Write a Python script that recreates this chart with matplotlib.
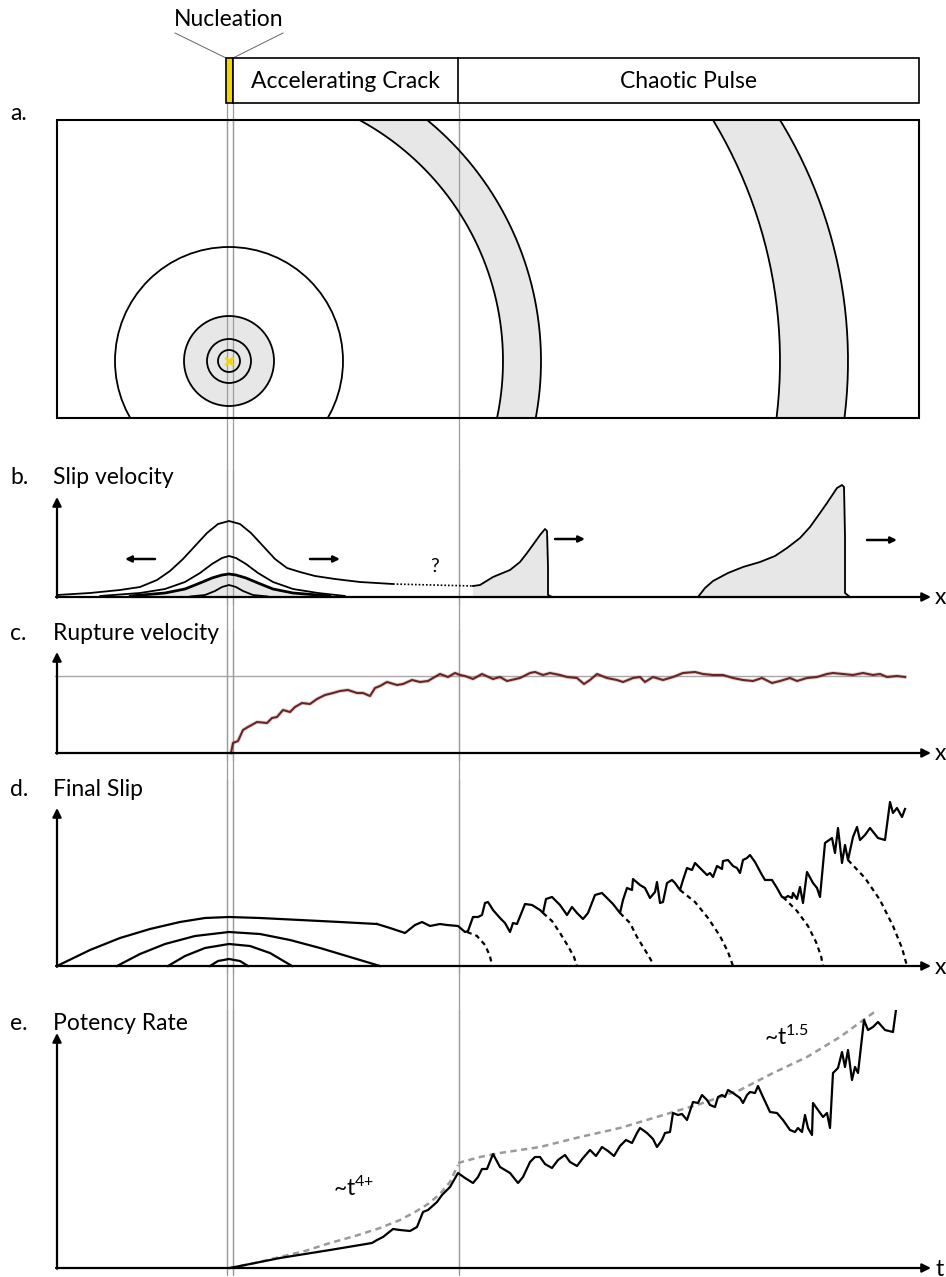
import numpy as np
import matplotlib
matplotlib.use('Agg')
import matplotlib.pyplot as plt
from matplotlib.patches import Circle, Polygon, Rectangle

W, H = 946, 1277

plt.rcParams.update({
    'font.family': ['Lato', 'DejaVu Sans'],
    'font.size': 16.5,
    'mathtext.default': 'regular',
})

INK = 'black'
FILL = '#e7e7e7'
GUIDE = '#9c9c9c'
YELLOW = '#f2d600'
MAROON = '#6a2424'
TREND = '#9a9a9a'
FS = 16.5

# ---- rupture phases along the fault (x in pixels of the fault axis) ----
PHASE_EDGES = [226, 233, 458, 919]
PHASE_NAMES = ['Nucleation', 'Accelerating Crack', 'Chaotic Pulse']
GUIDE_X = [227, 233, 458.5]
HYPO_X = 229

# ---- a. map view: rupture fronts ----
HYPO_Y = 57
RING_RADII = [11, 22, 45]
CRACK_RADIUS = 114
# each pulse band: (outer center x, outer radius, inner center x, inner radius)
PULSE_BANDS = [
    (229, 312, 229, 274),
    (387, 461, 313, 467),
]

# ---- b. slip velocity snapshots ----
b_x1 = [57, 90, 120, 140, 157, 170, 183, 195, 207, 218, 229, 240, 251, 263,
        275, 287, 300, 315, 335, 360, 393]
b_h1 = [2, 4, 7, 10, 17, 26, 38, 51, 64, 73, 76, 73, 64, 51, 38, 29, 25, 21,
        18, 15, 13]
b_x2 = [100, 140, 165, 185, 200, 212, 222, 229, 236, 246, 258, 273, 293, 318, 345]
b_h2 = [1, 4, 8, 15, 24, 33, 39, 41, 39, 33, 24, 15, 8, 4, 1]
b_x3 = [130, 165, 185, 200, 212, 222, 229, 236, 246, 258, 273, 293, 330]
b_h3 = [1, 4, 8, 14, 19, 22, 23, 22, 19, 14, 8, 4, 1]
b_x4 = [190, 205, 215, 222, 229, 236, 243, 253, 268]
b_h4 = [0.5, 2, 6, 10, 12, 10, 6, 2, 0.5]
b_gap_x = [393, 473]
b_gap_h = [13, 11]
pulse1_x = [473, 480, 493, 510, 520, 527, 535, 540, 545, 547, 548, 548, 552]
pulse1_h = [11, 12, 20, 27, 35, 44, 55, 62, 68, 66, 30, 2, 0]
pulse2_x = [698, 705, 713, 728, 743, 760, 775, 787, 800, 810, 820, 827, 833,
            837, 842, 844, 845, 845, 850]
pulse2_h = [0, 9, 16, 24, 30, 35, 41, 49, 59, 70, 84, 94, 103, 109, 112, 110,
            60, 4, 0]
b_arrows = [(155, 125, 38), (310, 340, 38), (555, 585, 58), (867, 897, 57)]

# ---- c. rupture velocity ----
c_x = [231, 233, 238, 243, 248, 257, 267, 272, 277, 283, 290, 295, 302, 310,
       317, 325, 333, 340, 348, 357, 363, 370, 375, 380, 387, 397, 403, 412,
       420, 428, 433, 440, 448, 455, 460, 465, 473, 482, 493, 500, 507, 520,
       530, 535, 543, 550, 560, 567, 577, 584, 590, 597, 607, 617, 623, 633,
       640, 645, 653, 663, 673, 683, 695, 703, 713, 723, 733, 743, 753, 762,
       772, 780, 790, 797, 807, 817, 827, 833, 843, 853, 863, 873, 880, 887,
       897, 905]
c_v = [0, 10, 12, 23, 26, 31, 30, 35, 36, 43, 41, 46, 50, 49, 54, 58, 60, 62,
       63, 60, 60, 57, 65, 67, 71, 68, 69, 73, 71, 72, 75, 79, 76, 80, 78, 77,
       74, 79, 74, 76, 72, 75, 80, 81, 78, 80, 78, 76, 75, 69, 73, 79, 75, 73,
       71, 75, 76, 71, 76, 73, 76, 80, 81, 79, 78, 78, 75, 73, 72, 75, 70, 72,
       75, 72, 75, 76, 79, 80, 79, 78, 80, 78, 79, 76, 77, 76]
C_LIMIT = 77

# ---- d. final slip ----
d_arcs = [
    ([57, 90, 120, 150, 180, 205, 229, 260, 300, 340, 377],
     [0, 16, 28, 37, 44, 48, 49, 48, 46, 44, 42]),
    ([117, 140, 165, 195, 229, 260, 290, 320, 350, 380],
     [0, 12, 22, 30, 34, 32, 26, 18, 9, 0]),
    ([168, 185, 205, 229, 250, 270, 292],
     [0, 10, 18, 22, 20, 13, 0]),
    ([210, 218, 229, 240, 248],
     [0, 5, 7, 5, 0]),
]
d_x = [377, 390, 405, 415, 422, 430, 440, 447, 458, 465, 468, 473, 478, 482,
       485, 488, 493, 500, 505, 510, 513, 517, 525, 532, 540, 543, 546, 552,
       560, 567, 572, 577, 583, 588, 595, 602, 607, 613, 620, 623, 627, 632,
       633, 640, 645, 650, 655, 657, 660, 663, 667, 672, 675, 680, 683, 687,
       692, 695, 702, 707, 710, 713, 717, 722, 723, 728, 733, 737, 740, 743,
       747, 750, 755, 762, 765, 772, 777, 782, 785, 788, 792, 793, 797, 800,
       803, 807, 813, 817, 820, 825, 832, 835, 838, 842, 845, 848, 853, 857,
       860, 865, 870, 878, 885, 890, 893, 897, 902, 905]
d_s = [42, 38, 33, 41, 44, 40, 42, 41, 40, 34, 35, 49, 49, 51, 63, 64, 56, 48,
       43, 34, 43, 42, 62, 61, 56, 53, 67, 69, 61, 51, 59, 53, 47, 53, 71, 73,
       68, 62, 53, 66, 78, 76, 87, 81, 78, 68, 74, 84, 63, 64, 83, 86, 83, 76,
       86, 98, 96, 103, 96, 91, 93, 89, 100, 97, 105, 106, 100, 98, 93, 106,
       108, 111, 104, 91, 86, 86, 78, 69, 68, 70, 68, 73, 67, 79, 63, 94, 83,
       78, 69, 123, 128, 113, 138, 103, 121, 106, 129, 139, 126, 131, 138, 128,
       126, 164, 153, 158, 149, 157]
d_tails = [
    ([467, 477, 485, 490, 492], [34, 30, 21, 10, 0]),
    ([543, 552, 560, 568, 574, 577], [53, 45, 33, 20, 9, 0]),
    ([620, 630, 637, 645, 651, 653], [53, 43, 29, 16, 6, 0]),
    ([680, 695, 708, 720, 728, 733], [76, 64, 48, 30, 14, 0]),
    ([783, 797, 808, 816, 821, 823], [69, 55, 40, 24, 10, 0]),
    ([848, 865, 880, 893, 902, 907], [106, 88, 66, 40, 18, 0]),
]

# ---- e. potency rate ----
e_t = [230, 255, 280, 305, 330, 360, 372, 377, 383, 393, 400, 410, 417, 423,
       428, 437, 442, 450, 458, 465, 473, 478, 482, 487, 493, 500, 510, 518,
       523, 530, 535, 540, 545, 552, 558, 565, 570, 577, 583, 590, 596, 602,
       608, 614, 620, 626, 632, 637, 640, 647, 653, 657, 662, 665, 670, 673,
       678, 682, 687, 693, 698, 702, 707, 710, 715, 718, 722, 725, 728, 733,
       740, 743, 747, 750, 755, 758, 763, 770, 777, 783, 790, 795, 798, 802,
       805, 808, 812, 813, 818, 823, 827, 830, 833, 838, 842, 845, 848, 852,
       855, 858, 864, 868, 873, 878, 885, 893, 898, 902, 905, 910, 913]
e_p = [0, 5, 10, 14, 18, 23, 25, 28, 31, 39, 38, 37, 41, 56, 58, 66, 73, 81,
       95, 90, 85, 91, 99, 99, 114, 101, 95, 85, 91, 106, 111, 111, 104, 100,
       108, 113, 106, 102, 110, 118, 112, 121, 117, 112, 122, 128, 125, 135,
       140, 135, 129, 121, 128, 135, 136, 155, 153, 154, 148, 166, 165, 173,
       168, 163, 161, 171, 173, 171, 178, 175, 170, 165, 173, 176, 175, 182,
       171, 156, 155, 148, 138, 136, 140, 136, 153, 140, 133, 165, 158, 151,
       155, 140, 195, 200, 216, 201, 218, 188, 201, 195, 248, 238, 241, 246,
       238, 236, 273, 261, 266, 261, 268]
trend1_t = [230, 255, 280, 305, 330, 355, 380, 400, 415, 428, 440, 450, 458]
trend1_p = [0, 5, 11, 17, 25, 32, 40, 48, 56, 64, 74, 86, 103]
trend2_t = [458, 480, 500, 540, 580, 620, 660, 700, 740, 773, 807, 840, 873, 897]
trend2_p = [105, 111, 115, 121, 131, 140, 152, 164, 178, 195, 211, 231, 255, 274]

# ---- panel layout: (label, title, title row, top of axis, baseline, axis letter) ----
PANELS = {
    'b': ('b.', 'Slip velocity', 478, 497, 597, 'x'),
    'c': ('c.', 'Rupture velocity', 634, 652, 753, 'x'),
    'd': ('d.', 'Final Slip', 789, 808, 966, 'x'),
    'e': ('e.', 'Potency Rate', 1024, 1033, 1268, 't'),
}

fig = plt.figure(figsize=(W / 100, H / 100), dpi=100)

# overlay in figure pixels: phase bar, guides, labels
over = fig.add_axes([0, 0, 1, 1])
over.set_xlim(0, W)
over.set_ylim(H, 0)
over.axis('off')

for gx in GUIDE_X:
    over.plot([gx, gx], [103, 1273], color=GUIDE, lw=0.9, zorder=0)

bar_top, bar_h = 58, 45
over.add_patch(Rectangle((PHASE_EDGES[0], bar_top), PHASE_EDGES[1] - PHASE_EDGES[0],
                         bar_h, facecolor=YELLOW, edgecolor=INK, lw=1.2, zorder=3))
over.add_patch(Rectangle((PHASE_EDGES[1], bar_top), PHASE_EDGES[3] - PHASE_EDGES[1],
                         bar_h, facecolor='white', edgecolor=INK, lw=1.2, zorder=3))
over.plot([PHASE_EDGES[2]] * 2, [bar_top, bar_top + bar_h], color=INK, lw=1.2, zorder=4)
for name, lo, hi in zip(PHASE_NAMES[1:], PHASE_EDGES[1:3], PHASE_EDGES[2:4]):
    over.text((lo + hi) / 2, bar_top + bar_h / 2 + 1, name, ha='center', va='center',
              fontsize=FS, zorder=5)
over.text((PHASE_EDGES[0] + PHASE_EDGES[1]) / 2 - 1, 20, PHASE_NAMES[0], ha='center',
          va='center', fontsize=FS)
over.plot([175, PHASE_EDGES[0]], [33, bar_top], color='#666666', lw=0.7)
over.plot([283, PHASE_EDGES[1]], [33, bar_top], color='#666666', lw=0.7)
over.text(10, 114, 'a.', ha='left', va='center', fontsize=FS)


def band_axes(top, base, pad=8):
    ax = fig.add_axes([0, 1 - (base + pad) / H, 1, (base + pad - top) / H])
    ax.set_xlim(0, W)
    ax.set_ylim(-pad, base - top)
    ax.axis('off')
    ax.patch.set_alpha(0)
    for gx in GUIDE_X:
        ax.axvline(gx, color=GUIDE, lw=0.9, zorder=1.5)
    return ax


def draw_axes_arrows(ax, key):
    label, title, title_y, ytop, base, letter = PANELS[key]
    arrow = dict(arrowstyle='-|>', lw=1.6, color=INK, mutation_scale=13,
                 shrinkA=0, shrinkB=0)
    ax.annotate('', xy=(57, base - ytop), xytext=(57, -0.8), arrowprops=arrow, zorder=6)
    ax.annotate('', xy=(931, 0), xytext=(56, 0), arrowprops=arrow, zorder=6)
    over.text(10, title_y, label, ha='left', va='center', fontsize=FS)
    over.text(53, title_y, title, ha='left', va='center', fontsize=FS)
    over.text(935, base + 1, letter, ha='left', va='center', fontsize=FS)


def arc_points(cx, cy, r, a0=-25, a1=95, n=160):
    ang = np.radians(np.linspace(a0, a1, n))
    return np.column_stack([cx + r * np.cos(ang), cy + r * np.sin(ang)])


# ---------------- a. map view ----------------
axa = fig.add_axes([0, 1 - 418 / H, 1, 298 / H])
axa.set_xlim(0, W)
axa.set_ylim(0, 298)
axa.axis('off')
axa.patch.set_alpha(0)

box = Rectangle((57, 0), 862, 298, fill=False, edgecolor=INK, lw=1.5,
                clip_on=False, zorder=5)
axa.add_patch(box)
clipped = []

for cxo, ro, cxi, ri in PULSE_BANDS:
    outer = arc_points(cxo, HYPO_Y, ro)
    inner = arc_points(cxi, HYPO_Y, ri)
    clipped.append(axa.add_patch(Polygon(np.vstack([outer, inner[::-1]]),
                                         closed=True, facecolor=FILL,
                                         edgecolor='none', zorder=1)))
    for pts in (outer, inner):
        clipped += axa.plot(pts[:, 0], pts[:, 1], color=INK, lw=1.3, zorder=2)

clipped.append(axa.add_patch(Circle((HYPO_X, HYPO_Y), RING_RADII[2], facecolor=FILL,
                                    edgecolor='none', zorder=1)))
outline = dict(facecolor='none', edgecolor=INK, lw=1.3, zorder=2)
clipped.append(axa.add_patch(Circle((HYPO_X, HYPO_Y), CRACK_RADIUS, **outline)))
for r in RING_RADII:
    clipped.append(axa.add_patch(Circle((HYPO_X, HYPO_Y), r, **outline)))
for gx in GUIDE_X:
    axa.axvline(gx, color=GUIDE, lw=0.9, zorder=1.5)
axa.plot([HYPO_X], [HYPO_Y], marker='x', ms=6, mew=2, color=YELLOW, zorder=3)
for art in clipped:
    art.set_clip_path(box)

# ---------------- b. slip velocity ----------------
axb = band_axes(470, 597)
axb.fill_between(b_x3, b_h3, color=FILL, zorder=1)
axb.fill_between(pulse1_x, pulse1_h, color=FILL, zorder=1)
axb.fill_between(pulse2_x, pulse2_h, color=FILL, zorder=1)
for xs, hs, lw in [(b_x1, b_h1, 1.3), (b_x2, b_h2, 1.3), (b_x3, b_h3, 2.0), (b_x4, b_h4, 1.3)]:
    axb.plot(xs, hs, color=INK, lw=lw, zorder=2, solid_capstyle='round')
axb.plot(b_gap_x, b_gap_h, color=INK, lw=1.2, ls=(0, (1, 1.2)), zorder=2)
axb.plot(pulse1_x, pulse1_h, color=INK, lw=1.3, zorder=2)
axb.plot(pulse2_x, pulse2_h, color=INK, lw=1.3, zorder=2)
for x0, x1, hy in b_arrows:
    axb.annotate('', xy=(x1, hy), xytext=(x0, hy),
                 arrowprops=dict(arrowstyle='-|>', lw=1.8, color=INK,
                                 mutation_scale=9, shrinkA=0, shrinkB=0))
axb.text(435, 30, '?', ha='center', va='center', fontsize=14)
draw_axes_arrows(axb, 'b')

# ---------------- c. rupture velocity ----------------
axc = band_axes(630, 753)
axc.plot([55, 905], [C_LIMIT, C_LIMIT], color='#a8a8a8', lw=1.0, zorder=1.4)
axc.plot(c_x, c_v, color=MAROON, lw=2.8, alpha=0.2, zorder=2)
axc.plot(c_x, c_v, color=MAROON, lw=1.5, zorder=2.1)
draw_axes_arrows(axc, 'c')

# ---------------- d. final slip ----------------
axd = band_axes(780, 966)
for xs, ss in d_arcs:
    axd.plot(xs, ss, color=INK, lw=1.6, zorder=2)
axd.plot(d_x, d_s, color=INK, lw=1.6, zorder=2)
for xs, ss in d_tails:
    axd.plot(xs, ss, color=INK, lw=1.6, ls=(0, (2.2, 1.8)), zorder=2)
draw_axes_arrows(axd, 'd')

# ---------------- e. potency rate ----------------
axe = band_axes(1010, 1268)
axe.plot(trend1_t, trend1_p, color=TREND, lw=1.8, ls=(0, (2.5, 1.8)), zorder=1.8)
axe.plot(trend2_t, trend2_p, color=TREND, lw=1.8, ls=(0, (2.5, 1.8)), zorder=1.8)
axe.plot(e_t, e_p, color=INK, lw=1.6, zorder=2)
axe.text(333, 80, '~t$^{4{+}}$', ha='left', va='center', fontsize=FS)
axe.text(764, 231, '~t$^{1.5}$', ha='left', va='center', fontsize=FS)
draw_axes_arrows(axe, 'e')

fig.savefig('out.png', dpi=100, facecolor='white')
